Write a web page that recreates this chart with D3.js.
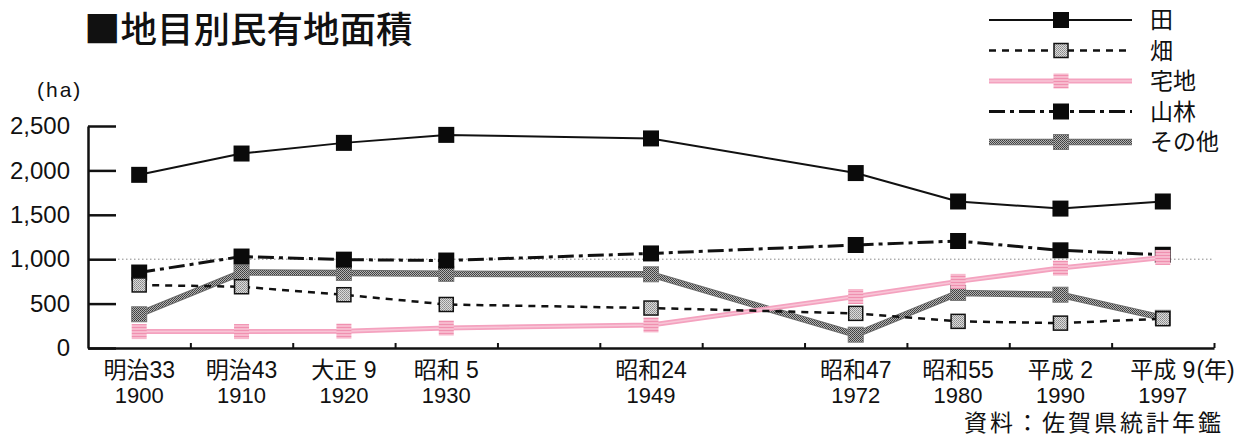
<!DOCTYPE html>
<html>
<head>
<meta charset="utf-8">
<script src="https://cdn.jsdelivr.net/npm/d3@7"></script>
<style>
  html, body { margin: 0; padding: 0; background: #fff; }
  svg { display: block; }
  text { font-family: "Liberation Sans", "Noto Sans CJK JP", sans-serif; fill: #111; }
  .cjk { font-family: "Noto Sans CJK JP", sans-serif; }
</style>
</head>
<body>
<svg id="chart" width="1256" height="436"></svg>
<script>
// ---- data ----
const slots = ["1900", "1910", "1920", "1930", "", "1949", " ", "1972", "1980", "1990", "1997"];
const years = ["1900", "1910", "1920", "1930", "1949", "1972", "1980", "1990", "1997"];
const eraLabels = ["明治33", "明治43", "大正 9", "昭和 5", "昭和24", "昭和47", "昭和55", "平成 2", "平成 9"];
const yearUnit = "(年)";
const seriesNames = ["田", "畑", "宅地", "山林", "その他"];
const ta     = [1950, 2190, 2310, 2400, 2360, 1970, 1650, 1570, 1650];
const hata   = [710, 690, 600, 490, 450, 390, 300, 280, 330];
const takuchi= [185, 185, 190, 225, 260, 580, 750, 900, 1020];
const sanrin = [850, 1030, 995, 985, 1065, 1160, 1205, 1100, 1050];
const sonota = [380, 850, 845, 835, 830, 150, 620, 600, 340];
const yTicks = [0, 500, 1000, 1500, 2000, 2500];
const title = "■地目別民有地面積";
const yUnit = "(ha)";
const source = "資料：佐賀県統計年鑑";

// ---- layout ----
const svg = d3.select("#chart");
const X0 = 88, X1 = 1214, Y0 = 348, Y1 = 126;

const defs = svg.append("defs");
// light gray checker (畑 markers)
const p1 = defs.append("pattern").attr("id", "pLight").attr("patternUnits", "userSpaceOnUse").attr("width", 2).attr("height", 2);
p1.append("rect").attr("width", 2).attr("height", 2).attr("fill", "#dcdcdc");
p1.append("rect").attr("width", 1).attr("height", 1).attr("fill", "#8a8a8a");
p1.append("rect").attr("x", 1).attr("y", 1).attr("width", 1).attr("height", 1).attr("fill", "#9a9a9a");
// dark gray checker (その他)
const p2 = defs.append("pattern").attr("id", "pDark").attr("patternUnits", "userSpaceOnUse").attr("width", 2).attr("height", 2);
p2.append("rect").attr("width", 2).attr("height", 2).attr("fill", "#b4b4b4");
p2.append("rect").attr("width", 1).attr("height", 1).attr("fill", "#3c3c3c");
p2.append("rect").attr("x", 1).attr("y", 1).attr("width", 1).attr("height", 1).attr("fill", "#4a4a4a");
// pink stripes (宅地 markers)
const p3 = defs.append("pattern").attr("id", "pPink").attr("patternUnits", "userSpaceOnUse").attr("width", 3).attr("height", 3);
p3.append("rect").attr("width", 3).attr("height", 3).attr("fill", "#f7b9cd");
p3.append("rect").attr("width", 3).attr("height", 1).attr("fill", "#f090b0");

const x = d3.scaleBand().domain(slots).range([X0, X1]).padding(0);
const xb = d3.scaleLinear().domain([0, slots.length]).range([X0, X1]);
const y = d3.scaleLinear().domain([0, 2500]).range([Y0, Y1]);
const cx = yr => x(yr) + x.bandwidth() / 2;

// title
svg.append("text").attr("class", "cjk").attr("x", 84).attr("y", 43)
  .attr("font-size", 36.5).attr("font-weight", 500).text(title);

// y unit
svg.append("text").attr("x", 37).attr("y", 97).attr("font-size", 21)
  .attr("letter-spacing", 2).text(yUnit);

// gridline at 1000
svg.append("line").attr("x1", 118).attr("x2", X1).attr("y1", y(1000)).attr("y2", y(1000))
  .attr("stroke", "#888").attr("stroke-width", 1).attr("stroke-dasharray", "1.5,2.5");

// y axis
const yAxis = svg.append("g").attr("transform", `translate(${X0},0)`)
  .call(d3.axisLeft(y).tickValues(yTicks).tickSize(-28).tickSizeOuter(0).tickPadding(18).tickFormat(d3.format(",")));
yAxis.select(".domain").attr("stroke", "#111").attr("stroke-width", 2.5);
yAxis.selectAll(".tick line").attr("stroke", "#111").attr("stroke-width", 2.5);
yAxis.selectAll(".tick text").attr("font-size", 24).attr("fill", "#111")
  .attr("font-family", "'Liberation Sans', sans-serif");

// x axis
const xAxis = svg.append("g").attr("transform", `translate(0,${Y0})`)
  .call(d3.axisBottom(xb).tickValues(d3.range(1, slots.length + 1)).tickSize(-5).tickSizeOuter(0).tickFormat(""));
xAxis.select(".domain").attr("stroke", "#111").attr("stroke-width", 2.5);
xAxis.selectAll(".tick line").attr("stroke", "#111").attr("stroke-width", 2);

// x labels
const lab = svg.append("g");
years.forEach((yr, i) => {
  const t = lab.append("text").attr("x", cx(yr)).attr("y", 378).attr("font-size", 23)
    .attr("text-anchor", "middle").text(eraLabels[i]);
  lab.append("text").attr("x", cx(yr)).attr("y", 403).attr("font-size", 22)
    .attr("text-anchor", "middle").text(yr);
  if (i === years.length - 1) {
    const w = t.node().getComputedTextLength();
    lab.append("text").attr("x", cx(yr) + w / 2 + 1).attr("y", 378).attr("font-size", 23)
      .text(yearUnit);
  }
});

// source
svg.append("text").attr("x", 1224).attr("y", 431).attr("font-size", 23)
  .attr("text-anchor", "end").attr("letter-spacing", 3).text(source);

// series styles
const styles = {
  "その他": { values: sonota, lines: [{ stroke: "#6a6a6a", w: 6.5 }, { stroke: "url(#pDark)", w: 4.5 }],
             mk: { fill: "url(#pDark)", stroke: "#777", sw: 1, size: 15 } },
  "山林":  { values: sanrin, lines: [{ stroke: "#111", w: 3, dash: "16,5,4,5" }],
             mk: { fill: "#0a0a0a", stroke: "none", sw: 0, size: 16 } },
  "宅地":  { values: takuchi, lines: [{ stroke: "#f4a2bf", w: 5 }, { stroke: "#f8c6d7", w: 1.5 }],
             mk: { fill: "url(#pPink)", stroke: "none", sw: 0, size: 15 } },
  "畑":    { values: hata, lines: [{ stroke: "#111", w: 2.5, dash: "7,6" }],
             mk: { fill: "url(#pLight)", stroke: "#111", sw: 1.5, size: 14 } },
  "田":    { values: ta, lines: [{ stroke: "#111", w: 2 }],
             mk: { fill: "#0a0a0a", stroke: "none", sw: 0, size: 16 } }
};
const drawOrder = ["その他", "山林", "宅地", "畑", "田"];

const line = d3.line().x(d => cx(d.yr)).y(d => y(d.v));
const plot = svg.append("g");
drawOrder.forEach(name => {
  const s = styles[name];
  const pts = years.map((yr, i) => ({ yr, v: s.values[i] }));
  const g = plot.append("g");
  s.lines.forEach(l => {
    g.append("path").datum(pts).attr("d", line).attr("fill", "none")
      .attr("stroke", l.stroke).attr("stroke-width", l.w)
      .attr("stroke-dasharray", l.dash || null).attr("stroke-linejoin", "round");
  });
  g.selectAll("rect").data(pts).join("rect")
    .attr("x", d => cx(d.yr) - s.mk.size / 2).attr("y", d => y(d.v) - s.mk.size / 2)
    .attr("width", s.mk.size).attr("height", s.mk.size)
    .attr("fill", s.mk.fill).attr("stroke", s.mk.stroke).attr("stroke-width", s.mk.sw);
});

// legend
const legY = d3.scalePoint().domain(seriesNames).range([20, 142]);
const leg = svg.append("g");
seriesNames.forEach(name => {
  const s = styles[name];
  const yy = legY(name);
  s.lines.forEach(l => {
    leg.append("line").attr("x1", 989).attr("x2", 1132).attr("y1", yy).attr("y2", yy)
      .attr("stroke", l.stroke).attr("stroke-width", l.w).attr("stroke-dasharray", l.dash || null);
  });
  leg.append("rect").attr("x", 1061 - s.mk.size / 2).attr("y", yy - s.mk.size / 2)
    .attr("width", s.mk.size).attr("height", s.mk.size)
    .attr("fill", s.mk.fill).attr("stroke", s.mk.stroke).attr("stroke-width", s.mk.sw);
  leg.append("text").attr("x", 1150).attr("y", yy)
    .attr("dy", "0.36em").attr("font-size", 23).text(name);
});
</script>
</body>
</html>
